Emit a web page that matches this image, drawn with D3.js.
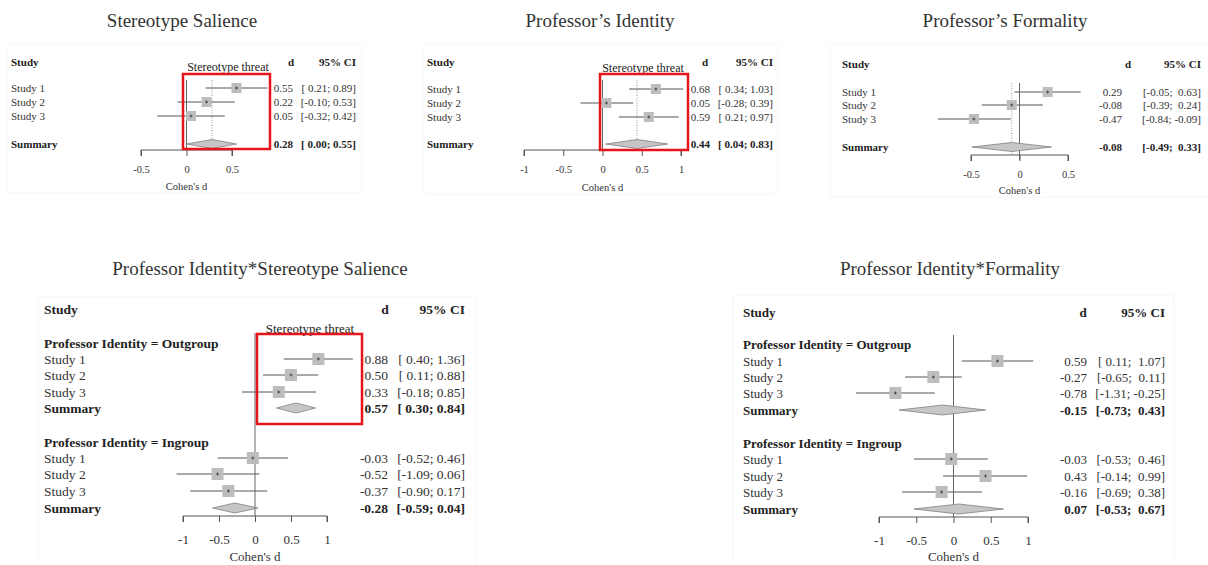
<!DOCTYPE html>
<html>
<head>
<meta charset="utf-8">
<script src="https://cdn.jsdelivr.net/npm/d3@7"></script>
<style>
  html, body { margin: 0; padding: 0; background: #fff; }
  svg, svg text { font-family: "Liberation Serif", "Times New Roman", serif; }
  svg text { fill: #222; white-space: pre; }
</style>
</head>
<body>
<svg id="chart" width="1208" height="565"></svg>
<script>
// ---- Study labels ----
const studies = ["Study 1", "Study 2", "Study 3"];

// ---- Stereotype Salience ----
const salienceD  = [0.55, 0.22, 0.05];
const salienceLo = [0.21, -0.10, -0.32];
const salienceHi = [0.89, 0.53, 0.42];
const salienceSummary = [0.28, 0.00, 0.55];   // d, lower, upper

// ---- Professor's Identity ----
const identityD  = [0.68, 0.05, 0.59];
const identityLo = [0.34, -0.28, 0.21];
const identityHi = [1.03, 0.39, 0.97];
const identitySummary = [0.44, 0.04, 0.83];

// ---- Professor's Formality ----
const formalityD  = [0.29, -0.08, -0.47];
const formalityLo = [-0.05, -0.39, -0.84];
const formalityHi = [0.63, 0.24, -0.09];
const formalitySummary = [-0.08, -0.49, 0.33];

// ---- Professor Identity * Stereotype Salience ----
const idSalOutD  = [0.88, 0.50, 0.33];
const idSalOutLo = [0.40, 0.11, -0.18];
const idSalOutHi = [1.36, 0.88, 0.85];
const idSalOutSummary = [0.57, 0.30, 0.84];
const idSalInD  = [-0.03, -0.52, -0.37];
const idSalInLo = [-0.52, -1.09, -0.90];
const idSalInHi = [0.46, 0.06, 0.17];
const idSalInSummary = [-0.28, -0.59, 0.04];

// ---- Professor Identity * Formality ----
const idFormOutD  = [0.59, -0.27, -0.78];
const idFormOutLo = [0.11, -0.65, -1.31];
const idFormOutHi = [1.07, 0.11, -0.25];
const idFormOutSummary = [-0.15, -0.73, 0.43];
const idFormInD  = [-0.03, 0.43, -0.16];
const idFormInLo = [-0.53, -0.14, -0.69];
const idFormInHi = [0.46, 0.99, 0.38];
const idFormInSummary = [0.07, -0.53, 0.67];

// ---- Axis ticks ----
const ticksHalf = [-0.5, 0, 0.5];
const ticksOne  = [-1, -0.5, 0, 0.5, 1];

// ---- Text ----
const titles = ["Stereotype Salience", "Professor\u2019s Identity", "Professor\u2019s Formality",
                "Professor Identity*Stereotype Salience", "Professor Identity*Formality"];
const groupLabels = ["Professor Identity = Outgroup", "Professor Identity = Ingroup"];
const highlightLabel = "Stereotype threat";
const axisLabel = "Cohen's d";

const svg = d3.select("#chart");

function groupOf(d, lo, hi, summary, label) {
  return {label, rows: studies.map((s, i) => ({study: s, d: d[i], lo: lo[i], hi: hi[i]})),
          summary: {d: summary[0], lo: summary[1], hi: summary[2]}};
}

const fmt = v => (v < 0 ? "-" : "") + Math.abs(v).toFixed(2);

function drawForest(cfg) {
  const g = svg.append("g");
  const fs = cfg.fontSize;

  // faint panel frame
  g.append("rect")
    .attr("x", cfg.frame[0]).attr("y", cfg.frame[1])
    .attr("width", cfg.frame[2] - cfg.frame[0]).attr("height", cfg.frame[3] - cfg.frame[1])
    .attr("rx", 4).attr("fill", "none").attr("stroke", "#f6f6f6").attr("stroke-width", 1);

  // title
  svg.append("text").attr("x", cfg.titleX).attr("y", cfg.titleY).attr("dy", "0.35em")
    .attr("text-anchor", "middle").attr("font-size", 19).style("fill", "#333")
    .text(cfg.title);

  const x = d3.scaleLinear().domain(cfg.domain).range(cfg.range);

  // CI columns: pad positive bounds when the column also holds a negative one
  const all = cfg.groups.flatMap(gr => gr.rows.concat([gr.summary]));
  const padLo = all.some(r => r.lo < 0), padHi = all.some(r => r.hi < 0);
  const ciText = r => "[" + (padLo && r.lo >= 0 ? " " : "") + fmt(r.lo) + "; " +
                      (padHi && r.hi >= 0 ? " " : "") + fmt(r.hi) + "]";

  // column headers
  const hdr = (tx, xx, anchor) => g.append("text").attr("x", xx).attr("y", cfg.headerY).attr("dy", "0.35em")
      .attr("text-anchor", anchor).attr("font-weight", "bold").attr("font-size", fs).text(tx);
  hdr("Study", cfg.labelX, "start");
  hdr("d", cfg.dHeaderX, "middle");
  hdr("95% CI", cfg.ciX, "end");

  // vertical reference lines: no effect, and the pooled estimate
  g.append("line").attr("x1", x(0)).attr("x2", x(0))
    .attr("y1", cfg.refTop).attr("y2", cfg.refBottom)
    .attr("stroke", "#666").attr("stroke-width", 1);
  if (cfg.summaryLine) {
    const s = cfg.groups[0].summary.d;
    g.append("line").attr("x1", x(s)).attr("x2", x(s))
      .attr("y1", cfg.refTop).attr("y2", cfg.axisY)
      .attr("stroke", "#999").attr("stroke-width", 1).attr("stroke-dasharray", "1,1.5");
  }

  cfg.groups.forEach((gr, gi) => {
    const lay = cfg.layout[gi];
    if (gr.label) {
      g.append("text").attr("x", cfg.labelX).attr("y", lay.headerY).attr("dy", "0.35em")
        .attr("font-weight", "bold").attr("font-size", fs).text(gr.label);
    }
    gr.rows.forEach((r, i) => {
      const y = lay.rowY[i];
      g.append("text").attr("x", cfg.labelX).attr("y", y).attr("dy", "0.35em")
        .attr("font-size", fs).style("fill", "#333").text(r.study);
      g.append("line").attr("x1", x(r.lo)).attr("x2", x(r.hi)).attr("y1", y).attr("y2", y)
        .attr("stroke", "#555").attr("stroke-width", 1);
      const h = cfg.square / 2;
      g.append("rect").attr("x", x(r.d) - h).attr("y", y - h)
        .attr("width", cfg.square).attr("height", cfg.square).attr("fill", "#bdbdbd");
      g.append("line").attr("x1", x(r.d)).attr("x2", x(r.d)).attr("y1", y - 1.5).attr("y2", y + 1.5)
        .attr("stroke", "#333").attr("stroke-width", 0.8);
      g.append("line").attr("x1", x(r.d) - 1.5).attr("x2", x(r.d) + 1.5).attr("y1", y).attr("y2", y)
        .attr("stroke", "#333").attr("stroke-width", 0.8);
      g.append("text").attr("x", cfg.dX).attr("y", y).attr("dy", "0.35em")
        .attr("text-anchor", "end").attr("font-size", fs).style("fill", "#333").text(fmt(r.d));
      g.append("text").attr("x", cfg.ciX).attr("y", y).attr("dy", "0.35em")
        .attr("text-anchor", "end").attr("font-size", fs).style("fill", "#333").text(ciText(r));
    });
    // summary row with diamond
    const sy = lay.summaryY, s = gr.summary, dh = cfg.diamond / 2;
    g.append("text").attr("x", cfg.labelX).attr("y", sy).attr("dy", "0.35em")
      .attr("font-weight", "bold").attr("font-size", fs).text("Summary");
    g.append("path")
      .attr("d", `M${x(s.lo)},${sy} L${x(s.d)},${sy - dh} L${x(s.hi)},${sy} L${x(s.d)},${sy + dh} Z`)
      .attr("fill", "#c6c6c6").attr("stroke", "#808080").attr("stroke-width", 0.8);
    g.append("text").attr("x", cfg.dX).attr("y", sy).attr("dy", "0.35em")
      .attr("text-anchor", "end").attr("font-weight", "bold").attr("font-size", fs).text(fmt(s.d));
    g.append("text").attr("x", cfg.ciX).attr("y", sy).attr("dy", "0.35em")
      .attr("text-anchor", "end").attr("font-weight", "bold").attr("font-size", fs).text(ciText(s));
  });

  // x axis: line from first to last tick, ticks pointing down
  const axis = d3.axisBottom(x).tickValues(cfg.ticks).tickSize(6).tickPadding(cfg.tickPad)
    .tickFormat(d => d === 0 ? "0" : String(d));
  const ag = g.append("g").attr("transform", `translate(0,${cfg.axisY})`).call(axis)
    .attr("font-family", null).attr("font-size", null);
  ag.select(".domain").attr("d", `M${x(cfg.ticks[0])},6V0H${x(cfg.ticks[cfg.ticks.length - 1])}V6`)
    .attr("stroke", "#555");
  ag.selectAll(".tick line").attr("stroke", "#555");
  ag.selectAll(".tick text").attr("font-size", cfg.tickFont).style("fill", "#333");
  g.append("text").attr("x", x(0)).attr("y", cfg.axisLabelY).attr("dy", "0.35em")
    .attr("text-anchor", "middle").attr("font-size", cfg.tickFont).style("fill", "#333").text(axisLabel);

  // highlighted region
  if (cfg.box) {
    g.append("text").attr("x", cfg.box.labelX).attr("y", cfg.box.labelY).attr("dy", "0.35em")
      .attr("text-anchor", "middle").attr("font-size", cfg.box.font).text(highlightLabel);
    g.append("rect").attr("x", cfg.box.x0).attr("y", cfg.box.y0)
      .attr("width", cfg.box.x1 - cfg.box.x0).attr("height", cfg.box.y1 - cfg.box.y0)
      .attr("fill", "none").attr("stroke", "#e8141b").attr("stroke-width", 2.5);
  }
}

drawForest({
  title: titles[0], titleX: 182, titleY: 20, frame: [7, 44, 362, 193],
  fontSize: 11, tickFont: 10.5, tickPad: 10, square: 10, diamond: 9,
  domain: [-0.5, 0.5], range: [141, 232], ticks: ticksHalf,
  headerY: 62, labelX: 11, dHeaderX: 291, dX: 293, ciX: 356,
  refTop: 80, refBottom: 150, axisY: 150, axisLabelY: 186, summaryLine: true,
  groups: [groupOf(salienceD, salienceLo, salienceHi, salienceSummary, null)],
  layout: [{rowY: [88, 102, 116], summaryY: 144}],
  box: {x0: 183, y0: 74, x1: 270, y1: 149, labelX: 228, labelY: 67, font: 12}
});

drawForest({
  title: titles[1], titleX: 600, titleY: 20, frame: [423, 44, 778, 194],
  fontSize: 11, tickFont: 10.5, tickPad: 10, square: 10, diamond: 9,
  domain: [-1, 1], range: [524, 681], ticks: ticksOne,
  headerY: 62, labelX: 427, dHeaderX: 705, dX: 710, ciX: 773,
  refTop: 80, refBottom: 150, axisY: 150, axisLabelY: 187, summaryLine: true,
  groups: [groupOf(identityD, identityLo, identityHi, identitySummary, null)],
  layout: [{rowY: [89, 103, 117], summaryY: 144}],
  box: {x0: 600, y0: 74, x1: 688, y1: 150, labelX: 643, labelY: 68, font: 12}
});

drawForest({
  title: titles[2], titleX: 1005, titleY: 20, frame: [830, 44, 1215, 197],
  fontSize: 11, tickFont: 10.5, tickPad: 10, square: 10, diamond: 9,
  domain: [-0.5, 0.5], range: [971, 1068], ticks: ticksHalf,
  headerY: 64, labelX: 842, dHeaderX: 1128, dX: 1122, ciX: 1201,
  refTop: 83, refBottom: 160, axisY: 155, axisLabelY: 190, summaryLine: true,
  groups: [groupOf(formalityD, formalityLo, formalityHi, formalitySummary, null)],
  layout: [{rowY: [92, 105, 119], summaryY: 147}]
});

drawForest({
  title: titles[3], titleX: 260, titleY: 268, frame: [38, 297, 476, 575],
  fontSize: 13.5, tickFont: 13, tickPad: 13, square: 12, diamond: 10,
  domain: [-1, 1], range: [183, 327], ticks: ticksOne,
  headerY: 309, labelX: 44, dHeaderX: 385, dX: 388, ciX: 465,
  refTop: 333, refBottom: 516, axisY: 516, axisLabelY: 556, summaryLine: false,
  groups: [groupOf(idSalOutD, idSalOutLo, idSalOutHi, idSalOutSummary, groupLabels[0]),
           groupOf(idSalInD, idSalInLo, idSalInHi, idSalInSummary, groupLabels[1])],
  layout: [{headerY: 343, rowY: [359, 375, 392], summaryY: 408},
           {headerY: 442, rowY: [458, 474, 491], summaryY: 508}],
  box: {x0: 257, y0: 334, x1: 362, y1: 424, labelX: 310, labelY: 328, font: 13}
});

drawForest({
  title: titles[4], titleX: 950, titleY: 268, frame: [733, 295, 1174, 575],
  fontSize: 13, tickFont: 13, tickPad: 13, square: 12, diamond: 10,
  domain: [-1, 1], range: [879, 1028], ticks: ticksOne,
  headerY: 312, labelX: 743, dHeaderX: 1083, dX: 1087, ciX: 1165,
  refTop: 335, refBottom: 517, axisY: 517, axisLabelY: 556, summaryLine: false,
  groups: [groupOf(idFormOutD, idFormOutLo, idFormOutHi, idFormOutSummary, groupLabels[0]),
           groupOf(idFormInD, idFormInLo, idFormInHi, idFormInSummary, groupLabels[1])],
  layout: [{headerY: 344, rowY: [361, 377, 393], summaryY: 410},
           {headerY: 443, rowY: [459, 476, 492], summaryY: 509}]
});
</script>
</body>
</html>
